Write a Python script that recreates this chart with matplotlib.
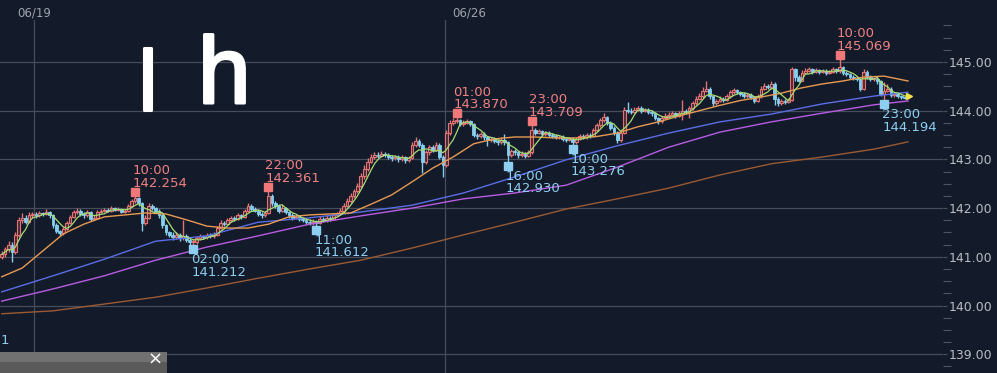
import numpy as np
import pandas as pd
import matplotlib
matplotlib.use("Agg")
import matplotlib.pyplot as plt
import matplotlib.transforms as mtransforms
import matplotlib.patheffects as pe
from matplotlib.patches import Rectangle
from matplotlib.ticker import FixedLocator, FormatStrFormatter

# hourly candles
first_open = 141.00
closes = [
    141.05, 141.15, 141.25, 141.10, 141.45, 141.75, 141.80, 141.72, 141.85, 141.88,
    141.85, 141.90, 141.87, 141.92, 141.85, 141.65, 141.52, 141.48, 141.58, 141.70,
    141.82, 141.92, 141.95, 141.88, 141.85, 141.92, 141.78, 141.80, 141.92, 141.95,
    141.97, 141.95, 142.00, 141.97, 141.98, 141.93, 141.95, 142.05, 142.15, 142.20,
    142.10, 141.70, 141.80, 142.05, 142.00, 141.95, 141.85, 141.65, 141.50, 141.45,
    141.40, 141.45, 141.38, 141.42, 141.35, 141.30, 141.30, 141.38, 141.42, 141.40,
    141.45, 141.42, 141.45, 141.60, 141.70, 141.68, 141.75, 141.80, 141.78, 141.85,
    141.82, 141.95, 142.05, 141.98, 141.95, 141.88, 141.85, 141.90, 142.25, 142.10,
    142.05, 141.95, 142.00, 141.92, 141.85, 141.80, 141.82, 141.78, 141.75, 141.72,
    141.70, 141.72, 141.70, 141.78, 141.75, 141.80, 141.78, 141.85, 141.88, 141.95,
    142.05, 142.15, 142.25, 142.35, 142.45, 142.65, 142.80, 142.95, 143.05, 143.10,
    143.08, 143.12, 143.10, 143.05, 143.02, 143.05, 143.00, 143.05, 142.98, 143.02,
    143.30, 143.38, 143.30, 142.95, 143.15, 143.25, 143.20, 143.30, 143.05, 142.88,
    143.55, 143.75, 143.78, 143.80, 143.72, 143.75, 143.78, 143.72, 143.50, 143.48,
    143.52, 143.45, 143.40, 143.42, 143.38, 143.35, 143.40, 143.35, 143.10, 143.18,
    143.15, 143.10, 143.12, 143.08, 143.15, 143.60, 143.55, 143.58, 143.52, 143.55,
    143.50, 143.48, 143.45, 143.47, 143.42, 143.40, 143.42, 143.35, 143.42, 143.48,
    143.45, 143.50, 143.48, 143.60, 143.70, 143.80, 143.88, 143.75, 143.65, 143.55,
    143.40, 143.55, 144.02, 144.00, 143.98, 144.02, 144.05, 144.00, 144.02, 143.98,
    143.95, 143.85, 143.78, 143.85, 143.90, 143.92, 143.95, 143.90, 143.95, 144.00,
    143.98, 144.05, 144.15, 144.25, 144.30, 144.40, 144.45, 144.30, 144.15, 144.20,
    144.25, 144.22, 144.30, 144.38, 144.42, 144.38, 144.35, 144.30, 144.32, 144.28,
    144.20, 144.30, 144.45, 144.50, 144.48, 144.55, 144.25, 144.15, 144.20, 144.18,
    144.22, 144.85, 144.70, 144.62, 144.78, 144.82, 144.85, 144.80, 144.83, 144.80,
    144.82, 144.78, 144.80, 144.85, 144.82, 144.90, 144.78, 144.75, 144.70, 144.68,
    144.65, 144.45, 144.80, 144.70, 144.65, 144.66, 144.60, 144.35, 144.40, 144.45,
    144.32, 144.35, 144.30, 144.28, 144.27, 144.28,
]
highs = [
    141.12, 141.20, 141.32, 141.30, 141.50, 141.82, 141.90, 141.85, 141.92, 141.93,
    141.92, 141.95, 141.93, 141.98, 141.95, 141.88, 141.70, 141.56, 141.62, 141.74,
    141.86, 141.96, 142.00, 141.98, 141.92, 141.96, 141.95, 141.85, 141.96, 141.99,
    142.01, 142.00, 142.04, 142.03, 142.02, 142.01, 141.99, 142.09, 142.19, 142.254,
    142.22, 142.12, 141.86, 142.10, 142.08, 142.03, 141.98, 141.88, 141.68, 141.54,
    141.50, 141.50, 141.49, 141.75, 141.46, 141.38, 141.36, 141.42, 141.46, 141.45,
    141.49, 141.48, 141.50, 141.64, 141.75, 141.74, 141.79, 141.84, 141.83, 141.89,
    141.88, 141.99, 142.10, 142.08, 142.02, 141.98, 141.92, 141.95, 142.361, 142.28,
    142.14, 142.08, 142.06, 142.03, 141.95, 141.89, 141.87, 141.86, 141.82, 141.79,
    141.77, 141.77, 141.76, 141.83, 141.82, 141.85, 141.84, 141.89, 141.93, 142.00,
    142.10, 142.20, 142.30, 142.40, 142.52, 142.72, 142.88, 143.02, 143.12, 143.16,
    143.15, 143.18, 143.16, 143.14, 143.10, 143.10, 143.09, 143.10, 143.08, 143.07,
    143.36, 143.45, 143.42, 143.33, 143.20, 143.30, 143.30, 143.36, 143.33, 143.10,
    143.60, 143.80, 143.84, 143.870, 143.83, 143.80, 143.82, 143.81, 143.75, 143.55,
    143.57, 143.56, 143.49, 143.47, 143.46, 143.42, 143.45, 143.52, 143.38, 143.22,
    143.22, 143.18, 143.17, 143.16, 143.20, 143.709, 143.64, 143.63, 143.61, 143.59,
    143.58, 143.54, 143.52, 143.51, 143.50, 143.46, 143.47, 143.45, 143.47, 143.53,
    143.52, 143.55, 143.54, 143.65, 143.75, 143.86, 143.95, 143.90, 143.78, 143.68,
    143.58, 143.60, 144.08, 144.18, 144.05, 144.07, 144.10, 144.09, 144.06, 144.05,
    144.02, 143.98, 143.88, 143.90, 143.95, 143.97, 144.00, 143.98, 144.00, 144.22,
    144.04, 144.10, 144.20, 144.30, 144.36, 144.48, 144.60, 144.48, 144.33, 144.25,
    144.30, 144.29, 144.35, 144.43, 144.47, 144.45, 144.41, 144.38, 144.37, 144.36,
    144.31, 144.35, 144.50, 144.56, 144.54, 144.62, 144.58, 144.28, 144.25, 144.24,
    144.27, 144.90, 144.88, 144.74, 144.83, 144.87, 144.90, 144.88, 144.87, 144.86,
    144.86, 144.85, 144.84, 144.89, 144.88, 145.069, 144.92, 144.81, 144.78, 144.73,
    144.72, 144.68, 144.86, 144.83, 144.74, 144.70, 144.69, 144.63, 144.58, 144.55,
    144.48, 144.39, 144.38, 144.33, 144.31, 144.31,
]
lows = [
    140.95, 141.00, 141.10, 140.90, 141.05, 141.40, 141.70, 141.68, 141.70, 141.80,
    141.80, 141.82, 141.83, 141.85, 141.80, 141.60, 141.48, 141.42, 141.45, 141.55,
    141.68, 141.80, 141.88, 141.84, 141.80, 141.82, 141.74, 141.75, 141.78, 141.90,
    141.92, 141.92, 141.93, 141.94, 141.94, 141.90, 141.90, 141.93, 142.02, 142.10,
    142.05, 141.52, 141.66, 141.78, 141.96, 141.90, 141.80, 141.60, 141.45, 141.40,
    141.35, 141.36, 141.33, 141.34, 141.30, 141.25, 141.212, 141.27, 141.35, 141.36,
    141.37, 141.38, 141.39, 141.43, 141.57, 141.63, 141.65, 141.72, 141.74, 141.75,
    141.78, 141.80, 141.92, 141.94, 141.91, 141.84, 141.80, 141.82, 141.88, 142.05,
    142.00, 141.90, 141.92, 141.88, 141.80, 141.76, 141.77, 141.74, 141.71, 141.68,
    141.66, 141.66, 141.612, 141.67, 141.71, 141.72, 141.74, 141.75, 141.82, 141.85,
    141.92, 142.02, 142.10, 142.20, 142.30, 142.42, 142.60, 142.76, 142.92, 143.00,
    143.02, 143.04, 143.05, 143.00, 142.97, 142.98, 142.95, 142.96, 142.93, 142.94,
    143.00, 143.26, 143.25, 142.72, 142.90, 143.10, 143.15, 143.17, 143.00, 142.64,
    142.85, 143.50, 143.70, 143.74, 143.68, 143.69, 143.72, 143.68, 143.45, 143.42,
    143.44, 143.40, 143.28, 143.36, 143.34, 143.30, 143.32, 143.30, 142.930, 143.05,
    143.10, 143.02, 143.05, 143.03, 143.05, 143.12, 143.50, 143.52, 143.48, 143.49,
    143.46, 143.44, 143.41, 143.42, 143.38, 143.36, 143.37, 143.276, 143.32, 143.40,
    143.41, 143.42, 143.44, 143.45, 143.57, 143.67, 143.76, 143.70, 143.60, 143.50,
    143.33, 143.36, 143.52, 143.95, 143.93, 143.95, 143.99, 143.96, 143.97, 143.94,
    143.90, 143.80, 143.73, 143.75, 143.82, 143.87, 143.89, 143.86, 143.87, 143.80,
    143.93, 143.85, 144.02, 144.12, 144.22, 144.27, 144.38, 144.25, 144.10, 144.12,
    144.17, 144.18, 144.20, 144.27, 144.35, 144.34, 144.31, 144.26, 144.27, 144.24,
    144.15, 144.17, 144.27, 144.42, 144.44, 144.45, 144.12, 144.10, 144.12, 144.13,
    144.15, 144.20, 144.62, 144.58, 144.60, 144.75, 144.79, 144.76, 144.77, 144.76,
    144.77, 144.74, 144.75, 144.77, 144.78, 144.78, 144.74, 144.71, 144.66, 144.64,
    144.60, 144.40, 144.42, 144.66, 144.61, 144.62, 144.55, 144.30, 144.194, 144.38,
    144.28, 144.29, 144.26, 144.25, 144.24, 144.25,
]

# moving averages read at sample candles
ma_mid_idx = [0, 6, 12, 18, 24, 30, 36, 42, 48, 54, 60, 66, 72, 78, 84, 90, 96, 102,
              108, 114, 120, 126, 132, 138, 144, 150, 156, 162, 168, 174, 180, 186,
              192, 198, 204, 210, 216, 222, 228, 234, 240, 246, 252, 258, 265]
ma_mid = [140.59, 140.77, 141.12, 141.47, 141.67, 141.82, 141.86, 141.90, 141.88,
          141.76, 141.63, 141.59, 141.59, 141.67, 141.82, 141.86, 141.88, 141.90,
          142.08, 142.27, 142.54, 142.82, 143.05, 143.32, 143.42, 143.46, 143.46,
          143.44, 143.44, 143.47, 143.54, 143.67, 143.77, 143.89, 144.00, 144.11,
          144.21, 144.28, 144.36, 144.47, 144.55, 144.61, 144.69, 144.71, 144.61]
ma_long_idx = [0, 15, 30, 45, 60, 75, 90, 105, 120, 135, 150, 165, 180, 195, 210,
               225, 240, 255, 265]
ma_blue = [140.28, 140.61, 140.95, 141.32, 141.43, 141.71, 141.80, 141.92, 142.06,
           142.31, 142.64, 142.99, 143.28, 143.54, 143.77, 143.93, 144.14, 144.30, 144.38]
ma_purple = [140.09, 140.34, 140.61, 140.93, 141.20, 141.43, 141.67, 141.84, 142.00,
             142.19, 142.31, 142.47, 142.84, 143.25, 143.56, 143.77, 143.95, 144.12, 144.20]
ma_brown = [139.83, 139.89, 140.03, 140.17, 140.36, 140.56, 140.75, 140.93, 141.18,
            141.45, 141.71, 141.98, 142.19, 142.41, 142.68, 142.91, 143.05, 143.21, 143.36]

price_ticks = [139, 140, 141, 142, 143, 144, 145]
date_pos = [9.5, 129.5]
date_labels = ["06/19", "06/26"]

peak_idx = [39, 78, 133, 155, 245]
peak_time = ["10:00", "22:00", "01:00", "23:00", "10:00"]
trough_idx = [56, 92, 148, 167, 258]
trough_time = ["02:00", "11:00", "16:00", "10:00", "23:00"]

BG = "#131a29"
GRID = "#464c5a"
UP = "#e27474"
DOWN = "#86cdee"

W, H = 997, 373
fig = plt.figure(figsize=(W / 100, H / 100), dpi=100, facecolor=BG)
ax = fig.add_axes([0, 0, 943 / W, 1])
ax.set_facecolor(BG)

c = np.array(closes)
o = np.array([first_open] + closes[:-1])
hi = np.array(highs)
lo = np.array(lows)
x = np.arange(len(c))
up = c >= o
body_lo = np.minimum(o, c)
body_h = np.maximum(np.abs(c - o), 0.015)

ax.vlines(x[up], lo[up], hi[up], color=UP, lw=1.0, zorder=2)
ax.vlines(x[~up], lo[~up], hi[~up], color=DOWN, lw=1.0, zorder=2)
ax.bar(x[up], body_h[up], bottom=body_lo[up], width=0.8, facecolor="#4a2834",
       edgecolor=UP, linewidth=0.8, zorder=2.5)
ax.bar(x[~up], body_h[~up], bottom=body_lo[~up], width=0.8, facecolor=DOWN,
       edgecolor=DOWN, linewidth=0.6, zorder=2.5)

green = pd.Series(c).rolling(5, min_periods=1).mean()
ax.plot(ma_long_idx, ma_brown, color="#9a5a34", lw=1.0, zorder=3)
ax.plot(ma_long_idx, ma_purple, color="#b85ce4", lw=1.0, zorder=3)
ax.plot(ma_long_idx, ma_blue, color="#5a6de6", lw=1.0, zorder=3)
ax.plot(ma_mid_idx, ma_mid, color="#e89a52", lw=1.0, zorder=3)
ax.plot(x, green, color="#a6dc72", lw=0.9, zorder=3.2)
ax.plot([x[-1] + 0.3], [green.iloc[-1]], marker=">", color="#f2e24a", ms=4, zorder=4)

# high / low markers
sq_up = mtransforms.offset_copy(ax.transData, fig=fig, x=0, y=4, units="dots")
sq_dn = mtransforms.offset_copy(ax.transData, fig=fig, x=0, y=-3, units="dots")
for i, t in zip(peak_idx, peak_time):
    ax.plot(i, hi[i], marker="s", ms=5.5, color="#f07878", transform=sq_up, zorder=5)
    ax.annotate(f"{t}\n{hi[i]:.3f}", (i, hi[i]), xytext=(-3, 6), textcoords="offset pixels",
                ha="left", va="bottom", color="#f08282", fontsize=9.5, linespacing=0.95, zorder=5)
for i, t in zip(trough_idx, trough_time):
    ax.plot(i, lo[i], marker="s", ms=5.5, color="#8ccff0", transform=sq_dn, zorder=5)
    ax.annotate(f"{t}\n{lo[i]:.3f}", (i, lo[i]), xytext=(-2, -7), textcoords="offset pixels",
                ha="left", va="top", color="#8ccff0", fontsize=9.5, linespacing=0.95, zorder=5)

ax.set_xlim(-0.5, 943 / 3.42 - 0.5)
ax.set_ylim(138.614, 146.273)

blend = mtransforms.blended_transform_factory(ax.transData, ax.transAxes)
for p in date_pos:
    ax.axvline(p, ymax=1 - 20 / H, color=GRID, lw=0.9, zorder=1)
ax.text(date_pos[0], 1 - 13 / H, date_labels[0], transform=blend,
        ha="center", va="center", color="#9ea3ad", fontsize=8.5)
ax.annotate(date_labels[1], (date_pos[1], 1 - 13 / H), xycoords=blend,
            xytext=(8, 0), textcoords="offset pixels", ha="left", va="center",
            color="#9ea3ad", fontsize=8.5)

ax.yaxis.tick_right()
ax.yaxis.set_major_locator(FixedLocator(price_ticks))
ax.yaxis.set_minor_locator(FixedLocator(np.arange(138.75, 145.8, 0.25)))
ax.yaxis.set_major_formatter(FormatStrFormatter("%.2f"))
ax.tick_params(axis="y", which="major", length=3, width=0.9, color=GRID, pad=1,
               labelcolor="#b8bcc4", labelsize=9)
ax.tick_params(axis="y", which="minor", length=6, width=0.8, color="#4e5462")
ax.set_xticks([])
ax.grid(axis="y", which="major", color=GRID, lw=0.9, zorder=1)
ax.set_axisbelow(True)
for s in ax.spines.values():
    s.set_visible(False)

# hand-drawn marks
thick = [pe.withStroke(linewidth=2.2, foreground="white")]
fig.text(138 / W, 1 - 110 / H, "l", family="Liberation Sans", fontsize=62, color="white",
         va="baseline", path_effects=thick)
fig.text(198 / W, 1 - 103 / H, "h", family="Liberation Sans", fontsize=68, color="white",
         va="baseline", path_effects=thick)

# cut-off label and the panel tab at the bottom-left
fig.text(0.5 / W, 1 - 340 / H, "1", color="#8ccff0", fontsize=9.5, va="center")
fig.add_artist(Rectangle((0, 0), 167 / W, 21 / H, transform=fig.transFigure,
                         facecolor="#5a5a5a", edgecolor="none", zorder=10))
fig.add_artist(Rectangle((0, 11 / H), 167 / W, 10 / H, transform=fig.transFigure,
                         facecolor="#717171", edgecolor="none", zorder=10))
fig.text(155 / W, 1 - 360 / H, "\u00d7", color="white", fontsize=13, ha="center",
         va="center", zorder=11)

fig.savefig("out.png", dpi=100, facecolor=BG)
